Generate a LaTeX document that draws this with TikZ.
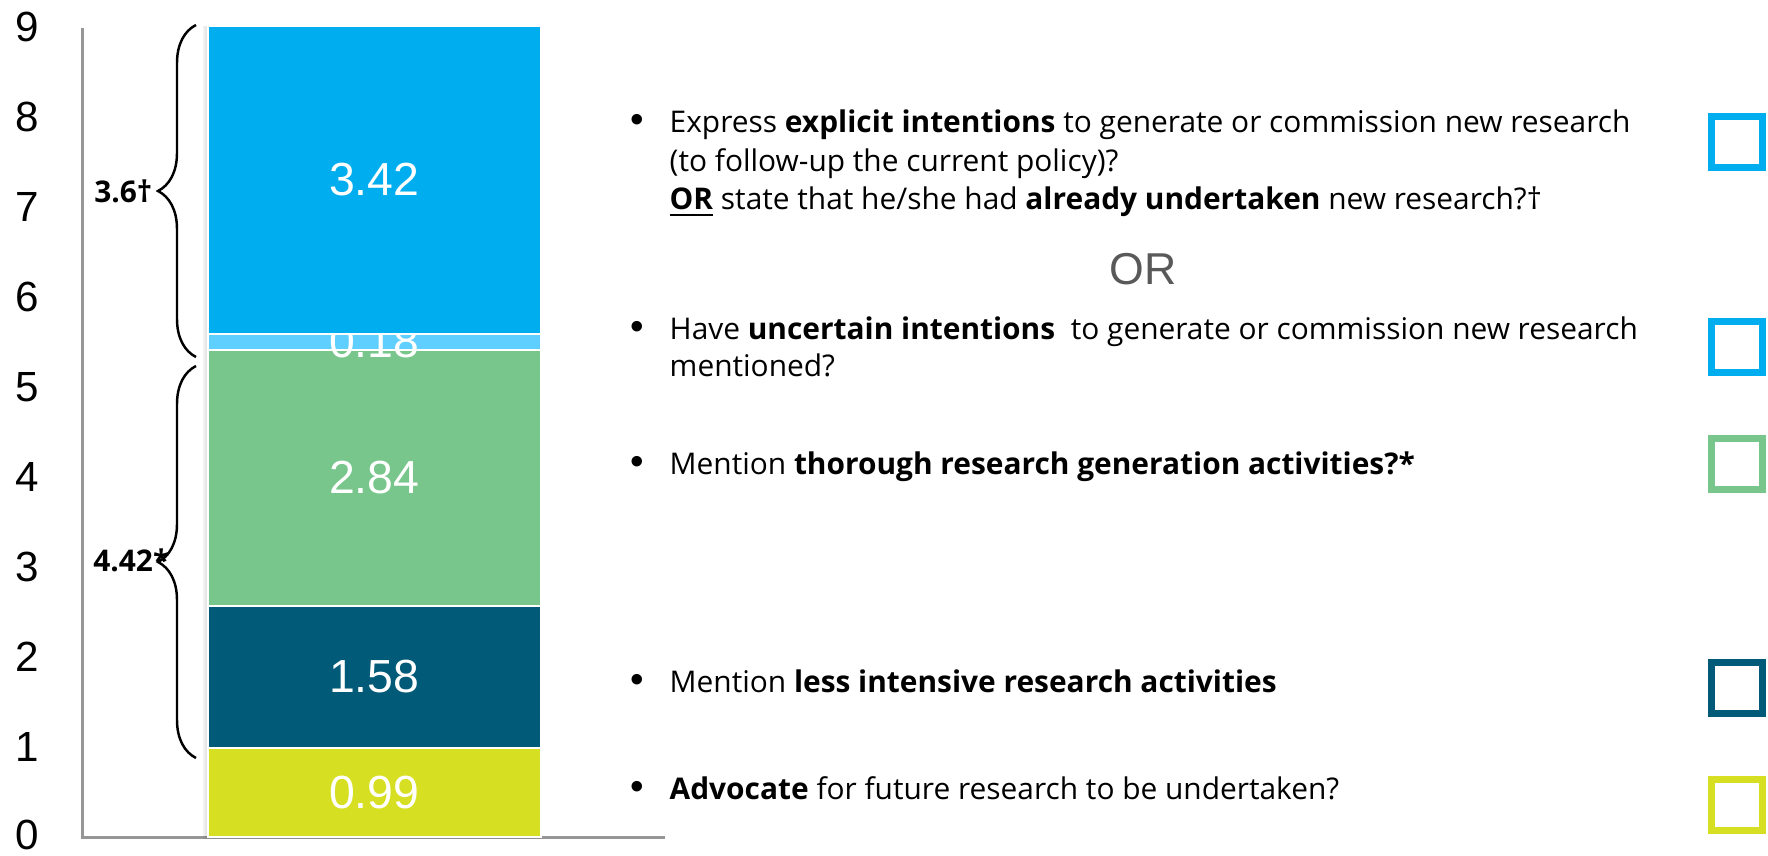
\documentclass[tikz,border=0pt]{standalone}
\usepackage{fontspec}
\setmainfont{Open Sans}
\newfontfamily\arialf{Liberation Sans}
\usepackage{xcolor}
\usepackage{tikz}
\usetikzlibrary{positioning}
\usetikzlibrary{decorations.pathreplacing}
\usetikzlibrary{calc}
\definecolor{bluec}{RGB}{0,174,239}
\definecolor{lbluec}{RGB}{94,207,255}
\definecolor{greenc}{RGB}{120,198,140}
\definecolor{tealc}{RGB}{0,90,120}
\definecolor{yellowc}{RGB}{215,223,35}
\definecolor{axisc}{RGB}{150,150,150}
\definecolor{orc}{RGB}{89,89,89}
\tikzset{numlab/.style={font=\arialf\fontsize{13.2}{15}\selectfont,text=white,inner sep=0pt}}
\tikzset{axlab/.style={font=\arialf\fontsize{12}{14}\selectfont,inner sep=0pt}}
\tikzset{desc/.style={font=\fontsize{8.5}{10}\selectfont,anchor=base west,inner sep=0pt}}
\tikzset{bul/.style={font=\arialf\fontsize{11}{10}\selectfont,anchor=base,inner sep=0pt}}
\tikzset{bracelab/.style={font=\bfseries\fontsize{8.5}{10}\selectfont,anchor=east,inner sep=0pt}}
\tikzset{curly/.style={draw,line width=0.7pt,decorate,decoration={brace,amplitude=0.38cm}}}
\tikzset{keybox/.style={rectangle,draw,line width=0.07cm,minimum width=0.51cm,minimum height=0.51cm,inner sep=0pt}}

\begin{document}
\begin{tikzpicture}
\useasboundingbox (0,0) rectangle (17.68,8.55);

 %axis
  \def\yo{0.18};
  \def\ys{0.9};
  \def\xl{2.076};
  \def\xr{5.41};

 \coordinate (origin) at (0.82,\yo);
 \coordinate (ytop) at (0.82,8.27);
 \coordinate (xend) at (6.65,\yo);
 \draw[axisc, line width=0.03cm] (ytop) -- (origin) -- (xend);

  \foreach \v in {0,...,9}
          \node[axlab] (tick\v) at (0.27, {\yo+\ys*\v+(\v==0)*0.02}) {\v};

 %bar
 \fill[black, opacity=0.05] (\xl-0.05, \yo-0.02) rectangle (\xr, \yo+\ys*9.01);
 \fill[black, opacity=0.05] (\xl-0.025, \yo-0.01) rectangle (\xr, \yo+\ys*9.01);

  \foreach \lo/\hi/\col/\val/\name in {0/0.99/yellowc/0.99/segA, 0.99/2.57/tealc/1.58/segB, 2.57/5.41/greenc/2.84/segC, 5.41/5.59/lbluec/0.18/segD, 5.59/9.01/bluec/3.42/segE}
    {
     \filldraw[fill=\col, draw=white, line width=0.02cm] (\xl, \yo+\ys*\lo) rectangle (\xr, \yo+\ys*\hi);
     \node[numlab] (\name) at ({(\xl+\xr)/2}, {\yo+\ys*(\lo+\hi)/2}) {\val};
    }

 %braces
 \draw[curly] (1.96, 4.98) -- (1.96, 8.30);
 \draw[curly] (1.96, 0.97) -- (1.96, 4.89);
 \node[bracelab] (upper) at (1.53, 6.64) {3.6†};
 \node[bracelab] (lower) at (1.70, 2.95) {4.42*};

 %items
  \foreach \y/\name/\txt in {
     7.22/itemA/{Express \textbf{explicit intentions} to generate or commission new research},
     6.83/itemAb/{(to follow-up the current policy)?},
     6.45/itemAc/{\underline{\textbf{OR}} state that he/she had \textbf{already undertaken} new research?†},
     5.15/itemB/{Have \textbf{uncertain intentions}~ to generate or commission new research},
     4.78/itemBb/{mentioned?},
     3.80/itemC/{Mention \textbf{thorough research generation activities?*}},
     1.62/itemD/{Mention \textbf{less intensive research activities}},
     0.56/itemE/{\textbf{Advocate} for future research to be undertaken?}}
          \node[desc] (\name) at (6.69, \y) {\txt};

  \foreach \y/\name in {7.22/dotA, 5.15/dotB, 3.80/dotC, 1.62/dotD, 0.56/dotE}
          \node[bul] (\name) at (6.37, \y) {\textbullet};

 \node[font=\arialf\fontsize{12.7}{15}\selectfont, text=orc, anchor=base, inner sep=0pt] (or) at (11.43, 5.70) {OR};

 %keys
  \foreach \y/\col/\name in {7.13/bluec/keyA, 5.075/bluec/keyB, 3.91/greenc/keyC, 1.67/tealc/keyD, 0.50/yellowc/keyE}
          \node[keybox, draw=\col] (\name) at (17.37, \y) {};

\end{tikzpicture}
\end{document}
